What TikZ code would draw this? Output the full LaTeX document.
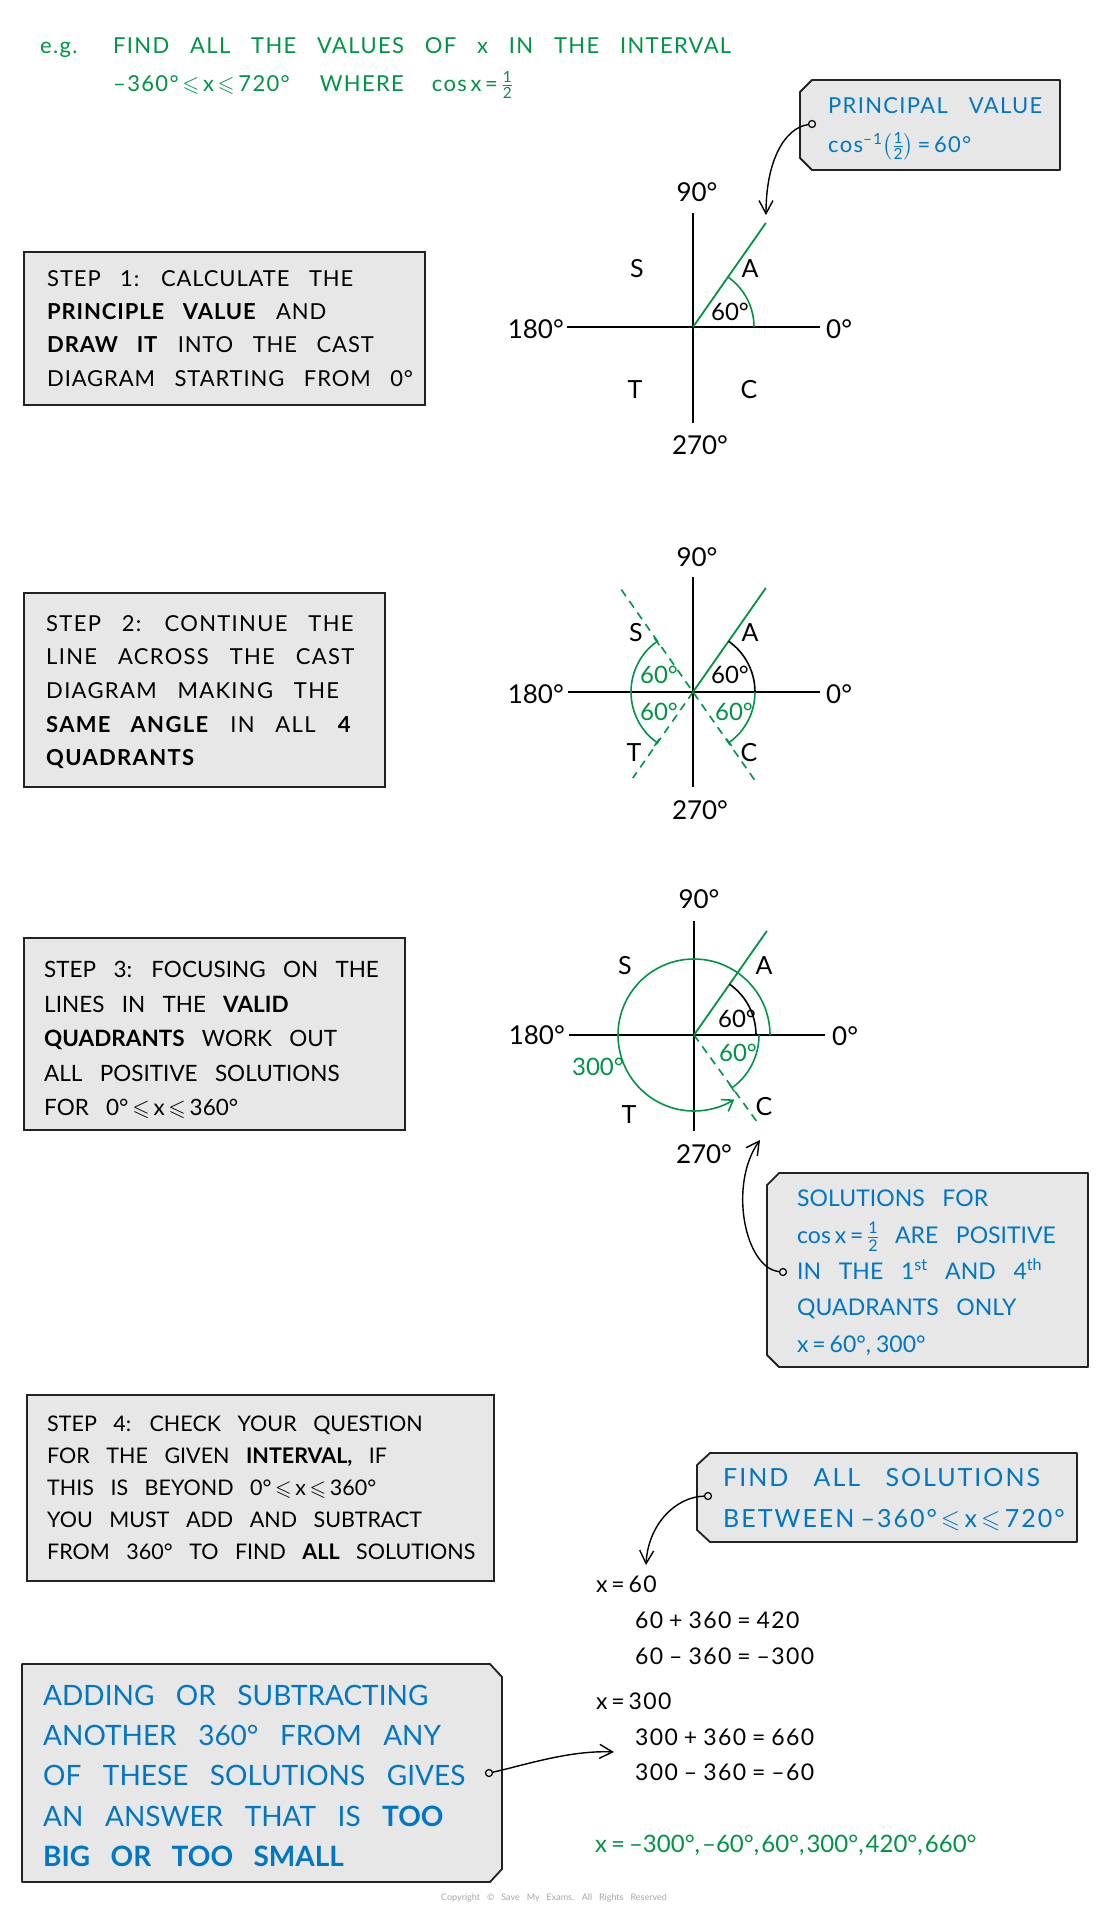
\documentclass[tikz,border=0pt]{standalone}
\usepackage{amsmath,amssymb}
\usepackage{fontspec}
\setmainfont{Lato}[WordSpace=3]
\newfontfamily\widefont{Lato}[WordSpace=3,LetterSpace=6]
\newfontfamily\midfont{Lato}[WordSpace=3,LetterSpace=4]
\newfontfamily\findfont{Lato}[WordSpace=3,LetterSpace=8]
\usetikzlibrary{arrows.meta}
\definecolor{smgreen}{RGB}{0,148,68}
\definecolor{smblue}{RGB}{0,118,196}
\definecolor{boxfill}{RGB}{231,231,231}
\definecolor{boxline}{RGB}{34,34,34}
\newcommand{\half}{\ensuremath{\tfrac{\text{1}}{\text{2}}}}
\newcommand{\smle}{\ensuremath{\leqslant}}
\newcommand{\gap}{\hspace{6pt}}

\begin{document}
\begin{tikzpicture}[x=1pt,y=-1pt]
\tikzstyle{every node}+=[inner sep=0pt]
\tikzstyle{stepbox}=[draw=boxline,fill=boxfill,line width=1.8pt,anchor=north west]
\tikzstyle{tagbox}=[draw=boxline,fill=boxfill,line width=1.8pt,line join=round]
\tikzstyle{steptext}=[anchor=north west,align=left]
\tikzstyle{castaxis}=[black,line width=1.8pt]
\tikzstyle{pv}=[smgreen,line width=1.8pt]
\tikzstyle{ext}=[smgreen,line width=1.6pt,dash pattern=on 8pt off 6pt]
\tikzstyle{ang}=[line width=1.6pt]
\tikzstyle{tick}=[-{Bar[width=9pt,line width=1.4pt]}]
\tikzstyle{arrowline}=[line width=1.4pt,-{Straight Barb[length=13pt,width=14pt]}]
\tikzstyle{hole}=[draw=black,line width=1.2pt,fill=boxfill,circle,minimum size=7pt]
\tikzstyle{lbl}=[font=\fontsize{26}{30}\selectfont]
\tikzstyle{quad}=[font=\fontsize{25}{30}\selectfont]
\tikzstyle{deg}=[font=\fontsize{24}{28}\selectfont]
\tikzstyle{calc}=[anchor=base west,font=\widefont\fontsize{23}{28}\selectfont]
\path[use as bounding box,fill=white] (0,0) rectangle (1100,1919);

\node[anchor=base west,smgreen,font=\widefont\fontsize{22}{26}\selectfont] (eg) at (40,53) {e.g.};
\node[anchor=base west,smgreen,font=\widefont\fontsize{22}{26}\selectfont] (task) at (113,53) {FIND ALL THE VALUES OF x IN THE INTERVAL};
\node[anchor=base west,smgreen,font=\widefont\fontsize{22}{26}\selectfont] (range) at (113,91) {–360°\,\smle\,x\,\smle\,720°\hspace{30pt}WHERE\hspace{28pt}cos\,x\,=\,\half};

\draw[tagbox] (800,92) -- (812,80) -- (1060,80) -- (1060,170) -- (812,170) -- (800,158) -- cycle;
\node[anchor=base west,smblue,font=\widefont\fontsize{22}{26}\selectfont] (pvtitle) at (828,113) {PRINCIPAL VALUE};
\node[anchor=base west,smblue,font=\widefont\fontsize{22}{26}\selectfont] (pvcalc) at (828,152) {cos\textsuperscript{–1}$\bigl(\half\bigr)$\,=\,60°};
\node[hole] (pvhole) at (812,124) {};
\coordinate (pvtip) at (766,215);
\draw[arrowline] (pvhole) .. controls (785,128) and (766,160) .. (pvtip);

\node[stepbox,minimum width=401pt,minimum height=153pt] (box1) at (23,251) {};
\node[steptext,font=\midfont\fontsize{22}{33.3}\selectfont] (step1) at (47,270) {STEP 1: CALCULATE THE\\ \textbf{PRINCIPLE VALUE} AND\\ \textbf{DRAW IT} INTO THE CAST\\ DIAGRAM STARTING FROM 0°};

\coordinate (o1) at (693,327);
\begin{scope}[shift={(o1)},y=1pt]
\draw[castaxis] (0,114) -- (0,-96);
\draw[castaxis] (-126,0) -- (127,0);
\draw[pv] (0,0) -- (55:127);
\draw[ang,smgreen] (61,0) arc[start angle=0,end angle=55,radius=61];
\end{scope}
\node[lbl] (n90a) at (697,192) {90°};
\node[lbl,anchor=east] (n180a) at (564,329) {180°};
\node[lbl,anchor=west] (n0a) at (826,329) {0°};
\node[lbl] (n270a) at (700,445) {270°};
\node[quad] (sa) at (637,269) {S};
\node[quad] (aa) at (750,269) {A};
\node[quad] (ta) at (635,390) {T};
\node[quad] (ca) at (749,390) {C};
\node[deg] (ga) at (730,312) {60°};

\node[stepbox,minimum width=361pt,minimum height=194pt] (box2) at (23,592) {};
\node[steptext,font=\widefont\fontsize{22}{33.7}\selectfont] (step2) at (46,615) {STEP 2: CONTINUE THE\\ LINE ACROSS THE CAST\\ DIAGRAM MAKING THE\\ \textbf{SAME ANGLE} IN ALL \textbf{4}\\ \textbf{QUADRANTS}};

\coordinate (o2) at (693,692);
\begin{scope}[shift={(o2)},y=1pt]
\draw[castaxis] (0,115) -- (0,-95);
\draw[castaxis] (-125,0) -- (127,0);
\draw[ext] (125:125) -- (305:110);
\draw[ext] (0,0) -- (235:105);
\draw[pv] (0,0) -- (55:127);
\draw[ang] (62,0) arc[start angle=0,end angle=55,radius=62];
\draw[ang,smgreen,tick] (-62,0) arc[start angle=180,end angle=125,radius=62];
\draw[ang,smgreen,tick] (-62,0) arc[start angle=180,end angle=235,radius=62];
\draw[ang,smgreen,tick] (62,0) arc[start angle=360,end angle=305,radius=62];
\end{scope}
\node[lbl] (n90b) at (697,557) {90°};
\node[lbl,anchor=east] (n180b) at (564,694) {180°};
\node[lbl,anchor=west] (n0b) at (826,694) {0°};
\node[lbl] (n270b) at (700,810) {270°};
\node[quad] (sb) at (636,633) {S};
\node[quad] (ab) at (750,633) {A};
\node[quad] (tb) at (634,753) {T};
\node[quad] (cb) at (749,753) {C};
\node[deg] (gb) at (730,675) {60°};
\node[deg,smgreen] (gb2) at (659,675) {60°};
\node[deg,smgreen] (gb3) at (659,712) {60°};
\node[deg,smgreen] (gb4) at (734,712) {60°};

\node[stepbox,minimum width=381pt,minimum height=192pt] (box3) at (23,937) {};
\node[steptext,font=\fontsize{22.5}{34.5}\selectfont] (step3) at (44,961) {STEP 3: FOCUSING ON THE\\ LINES IN THE \textbf{VALID}\\ \textbf{QUADRANTS} WORK OUT\\ ALL POSITIVE SOLUTIONS\\ FOR 0°\,\smle\,x\,\smle\,360°};

\coordinate (o3) at (694,1035);
\begin{scope}[shift={(o3)},y=1pt]
\draw[castaxis] (0,114) -- (0,-96);
\draw[castaxis] (-125,0) -- (131,0);
\draw[ext] (0,0) -- (306:111);
\draw[pv] (0,0) -- (55:127);
\draw[ang] (62,0) arc[start angle=0,end angle=55,radius=62];
\draw[ang,smgreen,tick] (65,0) arc[start angle=0,end angle=-55,radius=65];
\draw[ang,smgreen,-{Straight Barb[length=10pt,width=14pt]}] (76,0) arc[start angle=0,end angle=302,radius=76];
\end{scope}
\node[lbl] (n90c) at (699,899) {90°};
\node[lbl,anchor=east] (n180c) at (565,1035) {180°};
\node[lbl,anchor=west] (n0c) at (832,1036) {0°};
\node[lbl] (n270c) at (704,1154) {270°};
\node[quad] (sc) at (625,966) {S};
\node[quad] (ac) at (764,966) {A};
\node[quad] (tc) at (629,1115) {T};
\node[quad] (cc) at (764,1107) {C};
\node[deg] (gc) at (737,1019) {60°};
\node[deg,smgreen] (gc2) at (738,1053) {60°};
\node[deg,smgreen] (gc3) at (598,1067) {300°};

\draw[tagbox] (767,1185) -- (779,1173) -- (1088,1173) -- (1088,1367) -- (779,1367) -- (767,1355) -- cycle;
\node[steptext,smblue,font=\fontsize{23}{36.3}\selectfont] (sol) at (797,1190) {SOLUTIONS FOR\\ cos\,x\,=\,\half\hspace{16pt}ARE POSITIVE\\ IN THE 1\textsuperscript{st} AND 4\textsuperscript{th}\\ QUADRANTS ONLY\\ x\,=\,60°,\hspace{5pt}300°};
\node[hole] (solhole) at (783,1272) {};
\coordinate (soltip) at (760,1140);
\draw[arrowline] (solhole) .. controls (745,1268) and (728,1185) .. (soltip);

\node[stepbox,minimum width=467pt,minimum height=186pt] (box4) at (26,1394) {};
\node[steptext,font=\fontsize{21.5}{32}\selectfont] (step4) at (47,1416) {STEP 4: CHECK YOUR QUESTION\\ FOR THE GIVEN \textbf{INTERVAL,} IF\\ THIS IS BEYOND 0°\,\smle\,x\,\smle\,360°\\ YOU MUST ADD AND SUBTRACT\\ FROM 360° TO FIND \textbf{ALL} SOLUTIONS};

\draw[tagbox] (697,1465) -- (710,1453) -- (1077,1453) -- (1077,1542) -- (710,1542) -- (697,1530) -- cycle;
\node[steptext,smblue,font=\findfont\fontsize{25}{41}\selectfont] (find) at (723,1468) {FIND ALL SOLUTIONS\\ BETWEEN\hspace{6pt}–360°\,\smle\,x\,\smle\,720°};
\node[hole] (findhole) at (708,1496) {};
\coordinate (findtip) at (646,1565);
\draw[arrowline] (findhole) .. controls (675,1497) and (648,1525) .. (findtip);

\node[calc] (x60) at (596,1592) {x\,=\,60};
\node[calc] (x60p) at (635,1628) {60\gap+\gap360\gap=\gap420};
\node[calc] (x60m) at (635,1664) {60\gap–\gap360\gap=\gap–300};
\node[calc] (x300) at (596,1709) {x\,=\,300};
\node[calc] (x300p) at (635,1745) {300\gap+\gap360\gap=\gap660};
\node[calc] (x300m) at (635,1780) {300\gap–\gap360\gap=\gap–60};
\node[anchor=base west,smgreen,font=\fontsize{24}{30}\selectfont] (answer) at (595,1852) {x\,=\,–300°,\hspace{2pt}–60°,\hspace{2pt}60°,\hspace{2pt}300°,\hspace{2pt}420°,\hspace{2pt}660°};

\draw[tagbox] (22,1664) -- (490,1664) -- (502,1677) -- (502,1869) -- (490,1882) -- (22,1882) -- cycle;
\node[steptext,smblue,font=\fontsize{28}{40.2}\selectfont] (adding) at (43,1685) {ADDING OR SUBTRACTING\\ ANOTHER 360° FROM ANY\\ OF THESE SOLUTIONS GIVES\\ AN ANSWER THAT IS \textbf{TOO}\\ \textbf{BIG OR TOO SMALL}};
\node[hole] (addhole) at (489,1773) {};
\coordinate (addtip) at (614,1752);
\draw[arrowline] (addhole) .. controls (525,1765) and (570,1750) .. (addtip);

\node[gray!70,font=\fontsize{9}{10}\selectfont] (copy) at (554,1898) {Copyright © Save My Exams. All Rights Reserved};
\end{tikzpicture}
\end{document}
